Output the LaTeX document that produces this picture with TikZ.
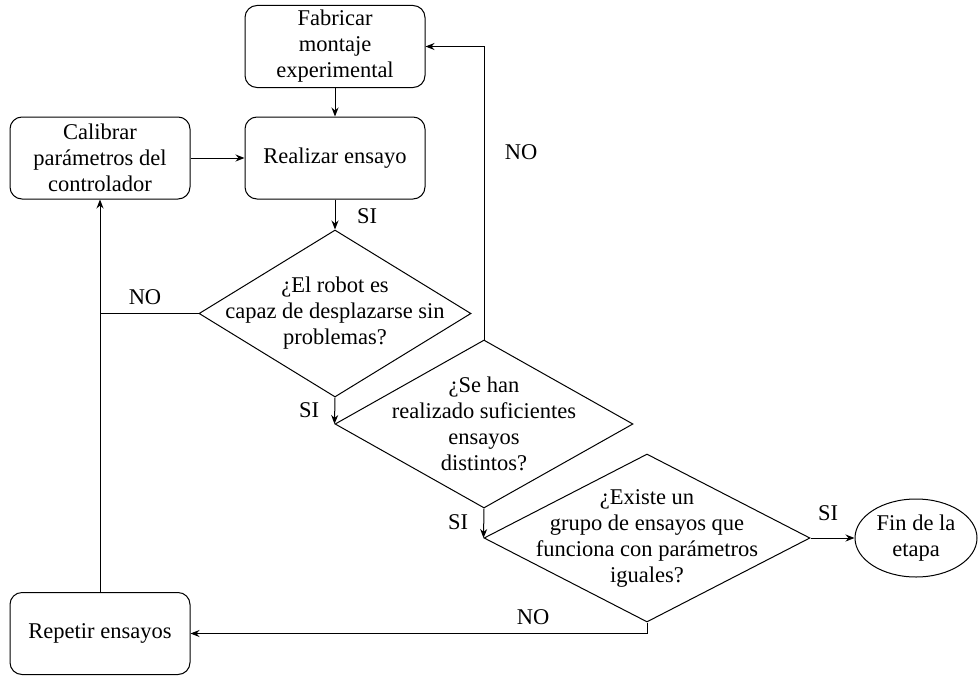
\documentclass[tikz,border=0pt]{standalone}
\usepackage{fontspec}
\setmainfont{Liberation Serif}
\usetikzlibrary{shapes.geometric,arrows.meta}
\begin{document}
\begin{tikzpicture}[x=1pt,y=-1pt,line width=1pt,
  font=\fontsize{22.5}{26}\selectfont,
  box/.style={draw, rounded corners=12pt, minimum width=180pt, minimum height=82pt, align=center, inner sep=2pt},
  dia/.style={draw, diamond, inner sep=0pt},
  txt/.style={align=center, inner sep=0pt},
  arr/.style={-{Stealth[length=9pt,width=7pt]}},
  lab/.style={inner sep=0pt}]
\useasboundingbox (0,0) rectangle (979,677);
\node[box] (fab) at (335,46.5) {Fabricar\\montaje\\experimental};
\node[box] (cal) at (100,158) {Calibrar\\parámetros del\\controlador};
\node[box] (rea) at (335,158) {Realizar ensayo};
\node[box] (rep) at (100,633.5) {Repetir ensayos};
\node[dia, minimum width=272pt, minimum height=167pt] (d1) at (335,313.5) {};
\node[txt] (t1) at (d1) {¿El robot es\\capaz de desplazarse sin\\problemas?};
\node[dia, minimum width=298pt, minimum height=168pt] (d2) at (484,424) {};
\node[txt] (t2) at (d2) {¿Se han\\realizado suficientes\\ensayos\\distintos?};
\node[dia, minimum width=326pt, minimum height=168pt] (d3) at (647,538) {};
\node[txt] (t3) at (d3) {¿Existe un\\grupo de ensayos que\\funciona con parámetros\\iguales?};
\node[draw, ellipse, minimum width=122pt, minimum height=78pt, inner sep=0pt, align=center] (fin) at (916,538) {Fin de la\\etapa};
\draw[arr] (fab) -- (rea);
\draw[arr] (cal) -- (rea);
\draw[arr] (rea) -- (d1.north);
\draw[arr] (d1.south) -- (d2.west);
\draw[arr] (d2.north) |- (fab.east);
\draw[arr] (d2.south) -- (d3.west);
\draw[arr] (d3.east) -- (fin.west);
\draw[arr] (d3.south) |- (rep.east);
\draw[arr] (rep.north) -- (cal.south);
\draw (d1.west) -- (d1.west -| rep.north);
\node[lab] (l1) at (367,216) {SI};
\node[lab] (l2) at (309,410) {SI};
\node[lab] (l3) at (458,522) {SI};
\node[lab] (l4) at (828,513) {SI};
\node[lab] (l5) at (521,152) {NO};
\node[lab] (l6) at (145,297) {NO};
\node[lab] (l7) at (533,617) {NO};
\end{tikzpicture}
\end{document}
